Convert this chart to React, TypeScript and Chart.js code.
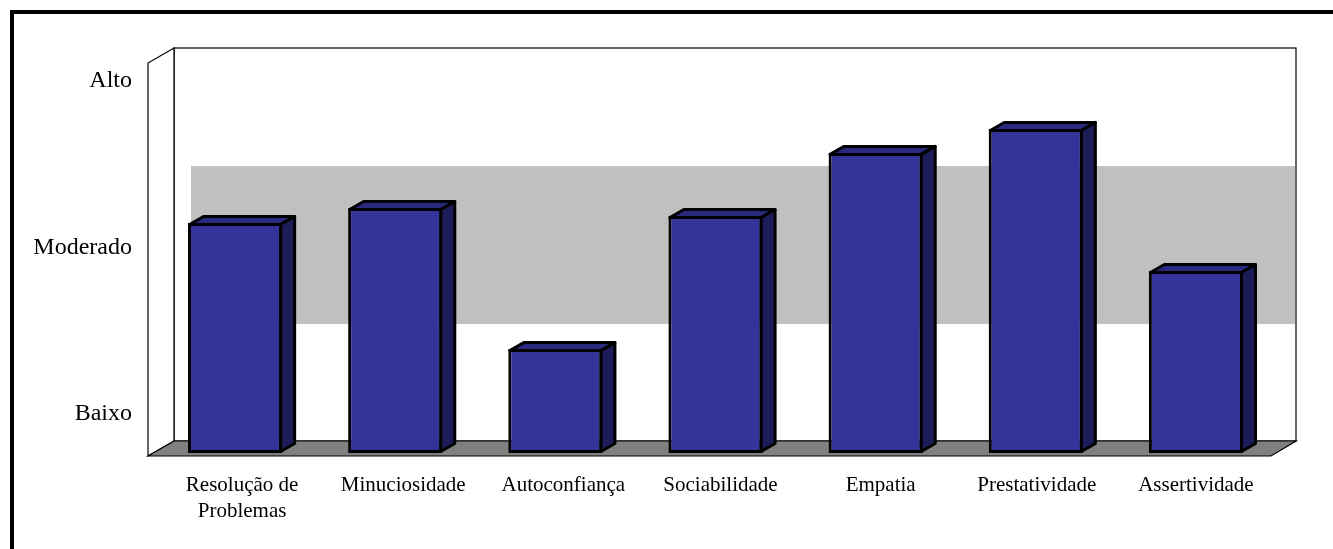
import React, { useEffect, useRef } from "react";
import { Chart, registerables } from "chart.js";

Chart.register(...registerables);

const categories = [
  ["Resolução de", "Problemas"],
  "Minuciosidade",
  "Autoconfiança",
  "Sociabilidade",
  "Empatia",
  "Prestatividade",
  "Assertividade",
];
const scores = [2.147, 2.237, 1.39, 2.189, 2.568, 2.712, 1.859];
const levelLabels: Record<number, string> = { 1: "Baixo", 2: "Moderado", 3: "Alto" };
const levelValues = [1, 2, 3];
const moderateBand = [1.541, 2.489];
const axisMin = 0.766;
const axisMax = 3.132;

const DX = 14;
const DY = 8;
const FONT = "'Liberation Serif', 'Times New Roman', serif";
const labelNudge = [7, 8, 8, 5, 5, 1, 0];

const scene = {
  id: "scene",
  beforeDraw(chart: any) {
    const { ctx, width, height } = chart;
    ctx.save();
    ctx.fillStyle = "#fff";
    ctx.fillRect(0, 0, width, height);
    ctx.fillStyle = "#000";
    ctx.fillRect(10, 10, width - 10, 4);
    ctx.fillRect(10, 10, 4, height - 10);
    ctx.restore();
  },
  beforeDatasetsDraw(chart: any) {
    const { ctx, scales } = chart;
    const backL = 174, backR = 1296, backT = 48, backB = 441;
    const frontL = 148, frontR = 1271, frontT = 63, frontB = 456;
    ctx.save();
    ctx.lineWidth = 1.2;
    ctx.strokeStyle = "#000";
    ctx.fillStyle = "#fff";
    ctx.fillRect(backL, backT, backR - backL, backB - backT);
    ctx.fillStyle = "#c0c0c0";
    const y1 = scales.y.getPixelForValue(moderateBand[1]);
    const y0 = scales.y.getPixelForValue(moderateBand[0]);
    ctx.fillRect(191, y1, backR - 191 - 1, y0 - y1);
    ctx.strokeRect(backL, backT, backR - backL, backB - backT);
    // left wall
    ctx.beginPath();
    ctx.moveTo(frontL, frontB);
    ctx.lineTo(frontL, frontT);
    ctx.lineTo(backL, backT);
    ctx.lineTo(backL, backB);
    ctx.closePath();
    ctx.fillStyle = "#fff";
    ctx.fill();
    ctx.stroke();
    // floor
    ctx.beginPath();
    ctx.moveTo(frontL, frontB);
    ctx.lineTo(backL, backB);
    ctx.lineTo(backR, backB);
    ctx.lineTo(frontR, frontB);
    ctx.closePath();
    ctx.fillStyle = "#808080";
    ctx.fill();
    ctx.stroke();
    ctx.restore();
  },
  afterDatasetsDraw(chart: any) {
    const { ctx } = chart;
    const meta = chart.getDatasetMeta(0);
    ctx.save();
    ctx.lineWidth = 3;
    ctx.strokeStyle = "#000";
    ctx.lineJoin = "round";
    meta.data.forEach((bar: any) => {
      const { x, y, base, width } = bar.getProps(["x", "y", "base", "width"], true);
      const l = x - width / 2 + 1.5;
      const r = x + width / 2 - 1.5;
      const t = y + 1.5;
      const b = base - 1.5;
      ctx.beginPath();
      ctx.moveTo(l, t);
      ctx.lineTo(l + DX, t - DY);
      ctx.lineTo(r + DX, t - DY);
      ctx.lineTo(r, t);
      ctx.closePath();
      ctx.fillStyle = "#29297f";
      ctx.fill();
      ctx.stroke();
      ctx.beginPath();
      ctx.moveTo(r, t);
      ctx.lineTo(r + DX, t - DY);
      ctx.lineTo(r + DX, b - DY);
      ctx.lineTo(r, b);
      ctx.closePath();
      ctx.fillStyle = "#1c1c58";
      ctx.fill();
      ctx.stroke();
    });
    ctx.restore();
  },
};

export default function App() {
  const ref = useRef<HTMLCanvasElement>(null);
  useEffect(() => {
    const chart = new Chart(ref.current!, {
      type: "bar",
      data: {
        labels: categories as any,
        datasets: [
          {
            data: scores,
            base: axisMin,
            backgroundColor: "#333399",
            borderColor: "#000",
            borderWidth: 3,
            borderSkipped: false,
            barPercentage: 0.603,
            categoryPercentage: 1,
          },
        ],
      },
      options: {
        responsive: false,
        animation: false,
        layout: { padding: { top: 59, right: 57, left: 0, bottom: 0 } },
        plugins: { legend: { display: false }, tooltip: { enabled: false }, title: { display: false } },
        scales: {
          x: {
            grid: { display: false, drawTicks: false },
            border: { display: false },
            afterFit(s: any) {
              s.height = 96;
            },
            afterBuildTicks(s: any) {
              if (s.__nudged) return;
              s.__nudged = true;
              const orig = s.getPixelForTick;
              s.getPixelForTick = function (i: number) {
                return orig.call(this, i) + (labelNudge[i] ?? 0);
              };
            },
            ticks: {
              maxRotation: 0,
              minRotation: 0,
              autoSkip: false,
              color: "#000",
              padding: 19,
              font: { family: FONT, size: 21, lineHeight: 1.26 },
            },
          },
          y: {
            min: axisMin,
            max: axisMax,
            grid: { display: false, drawTicks: false },
            border: { display: false },
            afterFit(s: any) {
              s.width = 155;
            },
            afterBuildTicks(s: any) {
              s.ticks = levelValues.map((value) => ({ value }));
            },
            ticks: {
              color: "#000",
              padding: 23,
              font: { family: FONT, size: 24 },
              callback: (v: any) => levelLabels[v] ?? "",
            },
          },
        },
      },
      plugins: [scene],
    } as any);
    return () => chart.destroy();
  }, []);
  return (
    <div style={{ position: "fixed", left: 0, top: 0, width: 1333, height: 549, background: "#fff" }}>
      <canvas ref={ref} width={1333} height={549} style={{ display: "block" }} />
    </div>
  );
}
